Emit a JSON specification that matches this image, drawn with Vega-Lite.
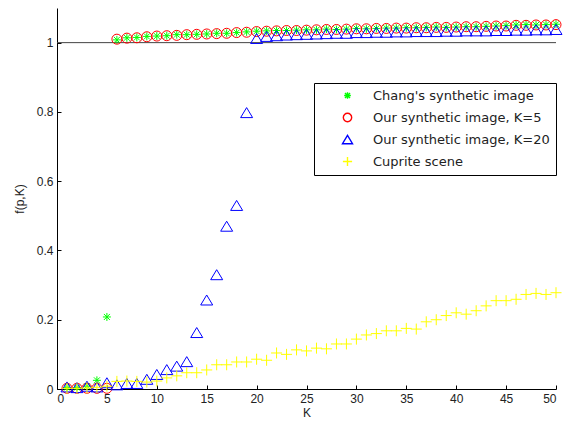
{
  "$schema": "https://vega.github.io/schema/vega-lite/v6.json",
  "autosize": {"type": "none"},
  "width": 499,
  "height": 381,
  "padding": {"left": 57, "top": 8, "right": 7, "bottom": 36},
  "background": "white",
  "config": {
    "view": {"stroke": null},
    "font": "Liberation Sans",
    "axis": {
      "grid": false,
      "domainColor": "#000",
      "tickColor": "#000",
      "tickSize": -4,
      "labelPadding": 8,
      "labelFont": "Liberation Sans",
      "labelFontSize": 12,
      "labelColor": "#222",
      "titleFont": "Liberation Sans",
      "titleFontSize": 12,
      "titleFontWeight": "normal",
      "titleColor": "#222"
    }
  },
  "datasets": {
    "pts": [
      {"K": 1, "v": 0.004, "s": "Chang's synthetic image"},
      {"K": 2, "v": 0.004, "s": "Chang's synthetic image"},
      {"K": 3, "v": 0.008, "s": "Chang's synthetic image"},
      {"K": 4, "v": 0.025, "s": "Chang's synthetic image"},
      {"K": 5, "v": 0.208, "s": "Chang's synthetic image"},
      {"K": 6, "v": 1.008, "s": "Chang's synthetic image"},
      {"K": 7, "v": 1.014, "s": "Chang's synthetic image"},
      {"K": 8, "v": 1.015, "s": "Chang's synthetic image"},
      {"K": 9, "v": 1.018, "s": "Chang's synthetic image"},
      {"K": 10, "v": 1.019, "s": "Chang's synthetic image"},
      {"K": 11, "v": 1.020, "s": "Chang's synthetic image"},
      {"K": 12, "v": 1.023, "s": "Chang's synthetic image"},
      {"K": 13, "v": 1.023, "s": "Chang's synthetic image"},
      {"K": 14, "v": 1.024, "s": "Chang's synthetic image"},
      {"K": 15, "v": 1.025, "s": "Chang's synthetic image"},
      {"K": 16, "v": 1.027, "s": "Chang's synthetic image"},
      {"K": 17, "v": 1.027, "s": "Chang's synthetic image"},
      {"K": 18, "v": 1.029, "s": "Chang's synthetic image"},
      {"K": 19, "v": 1.031, "s": "Chang's synthetic image"},
      {"K": 20, "v": 1.033, "s": "Chang's synthetic image"},
      {"K": 21, "v": 1.034, "s": "Chang's synthetic image"},
      {"K": 22, "v": 1.035, "s": "Chang's synthetic image"},
      {"K": 23, "v": 1.035, "s": "Chang's synthetic image"},
      {"K": 24, "v": 1.036, "s": "Chang's synthetic image"},
      {"K": 25, "v": 1.037, "s": "Chang's synthetic image"},
      {"K": 26, "v": 1.037, "s": "Chang's synthetic image"},
      {"K": 27, "v": 1.039, "s": "Chang's synthetic image"},
      {"K": 28, "v": 1.038, "s": "Chang's synthetic image"},
      {"K": 29, "v": 1.039, "s": "Chang's synthetic image"},
      {"K": 30, "v": 1.041, "s": "Chang's synthetic image"},
      {"K": 31, "v": 1.040, "s": "Chang's synthetic image"},
      {"K": 32, "v": 1.041, "s": "Chang's synthetic image"},
      {"K": 33, "v": 1.042, "s": "Chang's synthetic image"},
      {"K": 34, "v": 1.042, "s": "Chang's synthetic image"},
      {"K": 35, "v": 1.043, "s": "Chang's synthetic image"},
      {"K": 36, "v": 1.043, "s": "Chang's synthetic image"},
      {"K": 37, "v": 1.044, "s": "Chang's synthetic image"},
      {"K": 38, "v": 1.045, "s": "Chang's synthetic image"},
      {"K": 39, "v": 1.044, "s": "Chang's synthetic image"},
      {"K": 40, "v": 1.045, "s": "Chang's synthetic image"},
      {"K": 41, "v": 1.046, "s": "Chang's synthetic image"},
      {"K": 42, "v": 1.046, "s": "Chang's synthetic image"},
      {"K": 43, "v": 1.047, "s": "Chang's synthetic image"},
      {"K": 44, "v": 1.048, "s": "Chang's synthetic image"},
      {"K": 45, "v": 1.049, "s": "Chang's synthetic image"},
      {"K": 46, "v": 1.051, "s": "Chang's synthetic image"},
      {"K": 47, "v": 1.052, "s": "Chang's synthetic image"},
      {"K": 48, "v": 1.051, "s": "Chang's synthetic image"},
      {"K": 49, "v": 1.052, "s": "Chang's synthetic image"},
      {"K": 50, "v": 1.053, "s": "Chang's synthetic image"},

      {"K": 1, "v": 0.002, "s": "Our synthetic image, K=5"},
      {"K": 2, "v": 0.002, "s": "Our synthetic image, K=5"},
      {"K": 3, "v": 0.002, "s": "Our synthetic image, K=5"},
      {"K": 4, "v": 0.002, "s": "Our synthetic image, K=5"},
      {"K": 5, "v": 0.002, "s": "Our synthetic image, K=5"},
      {"K": 6, "v": 1.010, "s": "Our synthetic image, K=5"},
      {"K": 7, "v": 1.013, "s": "Our synthetic image, K=5"},
      {"K": 8, "v": 1.014, "s": "Our synthetic image, K=5"},
      {"K": 9, "v": 1.017, "s": "Our synthetic image, K=5"},
      {"K": 10, "v": 1.019, "s": "Our synthetic image, K=5"},
      {"K": 11, "v": 1.020, "s": "Our synthetic image, K=5"},
      {"K": 12, "v": 1.021, "s": "Our synthetic image, K=5"},
      {"K": 13, "v": 1.023, "s": "Our synthetic image, K=5"},
      {"K": 14, "v": 1.024, "s": "Our synthetic image, K=5"},
      {"K": 15, "v": 1.025, "s": "Our synthetic image, K=5"},
      {"K": 16, "v": 1.026, "s": "Our synthetic image, K=5"},
      {"K": 17, "v": 1.027, "s": "Our synthetic image, K=5"},
      {"K": 18, "v": 1.029, "s": "Our synthetic image, K=5"},
      {"K": 19, "v": 1.030, "s": "Our synthetic image, K=5"},
      {"K": 20, "v": 1.032, "s": "Our synthetic image, K=5"},
      {"K": 21, "v": 1.033, "s": "Our synthetic image, K=5"},
      {"K": 22, "v": 1.034, "s": "Our synthetic image, K=5"},
      {"K": 23, "v": 1.035, "s": "Our synthetic image, K=5"},
      {"K": 24, "v": 1.035, "s": "Our synthetic image, K=5"},
      {"K": 25, "v": 1.036, "s": "Our synthetic image, K=5"},
      {"K": 26, "v": 1.037, "s": "Our synthetic image, K=5"},
      {"K": 27, "v": 1.038, "s": "Our synthetic image, K=5"},
      {"K": 28, "v": 1.038, "s": "Our synthetic image, K=5"},
      {"K": 29, "v": 1.039, "s": "Our synthetic image, K=5"},
      {"K": 30, "v": 1.040, "s": "Our synthetic image, K=5"},
      {"K": 31, "v": 1.040, "s": "Our synthetic image, K=5"},
      {"K": 32, "v": 1.041, "s": "Our synthetic image, K=5"},
      {"K": 33, "v": 1.041, "s": "Our synthetic image, K=5"},
      {"K": 34, "v": 1.042, "s": "Our synthetic image, K=5"},
      {"K": 35, "v": 1.042, "s": "Our synthetic image, K=5"},
      {"K": 36, "v": 1.043, "s": "Our synthetic image, K=5"},
      {"K": 37, "v": 1.043, "s": "Our synthetic image, K=5"},
      {"K": 38, "v": 1.044, "s": "Our synthetic image, K=5"},
      {"K": 39, "v": 1.044, "s": "Our synthetic image, K=5"},
      {"K": 40, "v": 1.045, "s": "Our synthetic image, K=5"},
      {"K": 41, "v": 1.046, "s": "Our synthetic image, K=5"},
      {"K": 42, "v": 1.046, "s": "Our synthetic image, K=5"},
      {"K": 43, "v": 1.047, "s": "Our synthetic image, K=5"},
      {"K": 44, "v": 1.048, "s": "Our synthetic image, K=5"},
      {"K": 45, "v": 1.048, "s": "Our synthetic image, K=5"},
      {"K": 46, "v": 1.050, "s": "Our synthetic image, K=5"},
      {"K": 47, "v": 1.050, "s": "Our synthetic image, K=5"},
      {"K": 48, "v": 1.051, "s": "Our synthetic image, K=5"},
      {"K": 49, "v": 1.051, "s": "Our synthetic image, K=5"},
      {"K": 50, "v": 1.052, "s": "Our synthetic image, K=5"},

      {"K": 1, "v": 0.006, "s": "Our synthetic image, K=20"},
      {"K": 2, "v": 0.004, "s": "Our synthetic image, K=20"},
      {"K": 3, "v": 0.008, "s": "Our synthetic image, K=20"},
      {"K": 4, "v": 0.006, "s": "Our synthetic image, K=20"},
      {"K": 5, "v": 0.018, "s": "Our synthetic image, K=20"},
      {"K": 6, "v": 0.012, "s": "Our synthetic image, K=20"},
      {"K": 7, "v": 0.016, "s": "Our synthetic image, K=20"},
      {"K": 8, "v": 0.016, "s": "Our synthetic image, K=20"},
      {"K": 9, "v": 0.028, "s": "Our synthetic image, K=20"},
      {"K": 10, "v": 0.042, "s": "Our synthetic image, K=20"},
      {"K": 11, "v": 0.056, "s": "Our synthetic image, K=20"},
      {"K": 12, "v": 0.066, "s": "Our synthetic image, K=20"},
      {"K": 13, "v": 0.079, "s": "Our synthetic image, K=20"},
      {"K": 14, "v": 0.163, "s": "Our synthetic image, K=20"},
      {"K": 15, "v": 0.257, "s": "Our synthetic image, K=20"},
      {"K": 16, "v": 0.330, "s": "Our synthetic image, K=20"},
      {"K": 17, "v": 0.470, "s": "Our synthetic image, K=20"},
      {"K": 18, "v": 0.530, "s": "Our synthetic image, K=20"},
      {"K": 19, "v": 0.798, "s": "Our synthetic image, K=20"},
      {"K": 20, "v": 1.012, "s": "Our synthetic image, K=20"},
      {"K": 21, "v": 1.018, "s": "Our synthetic image, K=20"},
      {"K": 22, "v": 1.020, "s": "Our synthetic image, K=20"},
      {"K": 23, "v": 1.022, "s": "Our synthetic image, K=20"},
      {"K": 24, "v": 1.023, "s": "Our synthetic image, K=20"},
      {"K": 25, "v": 1.024, "s": "Our synthetic image, K=20"},
      {"K": 26, "v": 1.025, "s": "Our synthetic image, K=20"},
      {"K": 27, "v": 1.026, "s": "Our synthetic image, K=20"},
      {"K": 28, "v": 1.027, "s": "Our synthetic image, K=20"},
      {"K": 29, "v": 1.027, "s": "Our synthetic image, K=20"},
      {"K": 30, "v": 1.029, "s": "Our synthetic image, K=20"},
      {"K": 31, "v": 1.029, "s": "Our synthetic image, K=20"},
      {"K": 32, "v": 1.030, "s": "Our synthetic image, K=20"},
      {"K": 33, "v": 1.030, "s": "Our synthetic image, K=20"},
      {"K": 34, "v": 1.031, "s": "Our synthetic image, K=20"},
      {"K": 35, "v": 1.031, "s": "Our synthetic image, K=20"},
      {"K": 36, "v": 1.032, "s": "Our synthetic image, K=20"},
      {"K": 37, "v": 1.032, "s": "Our synthetic image, K=20"},
      {"K": 38, "v": 1.032, "s": "Our synthetic image, K=20"},
      {"K": 39, "v": 1.033, "s": "Our synthetic image, K=20"},
      {"K": 40, "v": 1.033, "s": "Our synthetic image, K=20"},
      {"K": 41, "v": 1.034, "s": "Our synthetic image, K=20"},
      {"K": 42, "v": 1.034, "s": "Our synthetic image, K=20"},
      {"K": 43, "v": 1.034, "s": "Our synthetic image, K=20"},
      {"K": 44, "v": 1.035, "s": "Our synthetic image, K=20"},
      {"K": 45, "v": 1.035, "s": "Our synthetic image, K=20"},
      {"K": 46, "v": 1.036, "s": "Our synthetic image, K=20"},
      {"K": 47, "v": 1.036, "s": "Our synthetic image, K=20"},
      {"K": 48, "v": 1.037, "s": "Our synthetic image, K=20"},
      {"K": 49, "v": 1.037, "s": "Our synthetic image, K=20"},
      {"K": 50, "v": 1.038, "s": "Our synthetic image, K=20"},

      {"K": 1, "v": 0.002, "s": "Cuprite scene"},
      {"K": 2, "v": 0.002, "s": "Cuprite scene"},
      {"K": 3, "v": 0.003, "s": "Cuprite scene"},
      {"K": 4, "v": 0.005, "s": "Cuprite scene"},
      {"K": 5, "v": 0.008, "s": "Cuprite scene"},
      {"K": 6, "v": 0.022, "s": "Cuprite scene"},
      {"K": 7, "v": 0.023, "s": "Cuprite scene"},
      {"K": 8, "v": 0.022, "s": "Cuprite scene"},
      {"K": 9, "v": 0.020, "s": "Cuprite scene"},
      {"K": 10, "v": 0.023, "s": "Cuprite scene"},
      {"K": 11, "v": 0.032, "s": "Cuprite scene"},
      {"K": 12, "v": 0.038, "s": "Cuprite scene"},
      {"K": 13, "v": 0.047, "s": "Cuprite scene"},
      {"K": 14, "v": 0.047, "s": "Cuprite scene"},
      {"K": 15, "v": 0.055, "s": "Cuprite scene"},
      {"K": 16, "v": 0.070, "s": "Cuprite scene"},
      {"K": 17, "v": 0.070, "s": "Cuprite scene"},
      {"K": 18, "v": 0.078, "s": "Cuprite scene"},
      {"K": 19, "v": 0.078, "s": "Cuprite scene"},
      {"K": 20, "v": 0.086, "s": "Cuprite scene"},
      {"K": 21, "v": 0.083, "s": "Cuprite scene"},
      {"K": 22, "v": 0.104, "s": "Cuprite scene"},
      {"K": 23, "v": 0.100, "s": "Cuprite scene"},
      {"K": 24, "v": 0.113, "s": "Cuprite scene"},
      {"K": 25, "v": 0.110, "s": "Cuprite scene"},
      {"K": 26, "v": 0.118, "s": "Cuprite scene"},
      {"K": 27, "v": 0.116, "s": "Cuprite scene"},
      {"K": 28, "v": 0.130, "s": "Cuprite scene"},
      {"K": 29, "v": 0.130, "s": "Cuprite scene"},
      {"K": 30, "v": 0.144, "s": "Cuprite scene"},
      {"K": 31, "v": 0.156, "s": "Cuprite scene"},
      {"K": 32, "v": 0.160, "s": "Cuprite scene"},
      {"K": 33, "v": 0.168, "s": "Cuprite scene"},
      {"K": 34, "v": 0.168, "s": "Cuprite scene"},
      {"K": 35, "v": 0.175, "s": "Cuprite scene"},
      {"K": 36, "v": 0.173, "s": "Cuprite scene"},
      {"K": 37, "v": 0.194, "s": "Cuprite scene"},
      {"K": 38, "v": 0.200, "s": "Cuprite scene"},
      {"K": 39, "v": 0.212, "s": "Cuprite scene"},
      {"K": 40, "v": 0.220, "s": "Cuprite scene"},
      {"K": 41, "v": 0.216, "s": "Cuprite scene"},
      {"K": 42, "v": 0.226, "s": "Cuprite scene"},
      {"K": 43, "v": 0.240, "s": "Cuprite scene"},
      {"K": 44, "v": 0.255, "s": "Cuprite scene"},
      {"K": 45, "v": 0.255, "s": "Cuprite scene"},
      {"K": 46, "v": 0.259, "s": "Cuprite scene"},
      {"K": 47, "v": 0.273, "s": "Cuprite scene"},
      {"K": 48, "v": 0.276, "s": "Cuprite scene"},
      {"K": 49, "v": 0.273, "s": "Cuprite scene"},
      {"K": 50, "v": 0.278, "s": "Cuprite scene"}
    ],
    "ref": [{"y": 1}]
  },
  "layer": [
    {
      "data": {"name": "ref"},
      "mark": {"type": "rule", "color": "#444", "strokeWidth": 1},
      "encoding": {
        "y": {"field": "y", "type": "quantitative", "scale": {"domain": [0, 1.1]}}
      }
    },
    {
      "data": {"name": "pts"},
      "mark": {"type": "point", "filled": false, "size": 100, "strokeWidth": 1, "opacity": 1},
      "encoding": {
        "x": {
          "field": "K", "type": "quantitative",
          "scale": {"domain": [0, 50], "nice": false},
          "axis": {"values": [0, 5, 10, 15, 20, 25, 30, 35, 40, 45, 50], "title": "K", "titlePadding": 3}
        },
        "y": {
          "field": "v", "type": "quantitative",
          "scale": {"domain": [0, 1.1], "nice": false},
          "axis": {"values": [0, 0.2, 0.4, 0.6, 0.8, 1], "format": "~g", "title": "f(p,K)", "titlePadding": 10}
        },
        "color": {
          "field": "s", "type": "nominal",
          "scale": {
            "domain": ["Chang's synthetic image", "Our synthetic image, K=5", "Our synthetic image, K=20", "Cuprite scene"],
            "range": ["#00ff00", "#ff0000", "#0000ff", "#ffff00"]
          },
          "legend": {
            "title": null,
            "orient": "none",
            "legendX": 257,
            "legendY": 75,
            "fillColor": "white",
            "strokeColor": "#000",
            "padding": 6,
            "symbolOffset": 21,
            "labelOffset": 19,
            "rowPadding": 7,
            "labelFontSize": 13,
            "labelFont": "DejaVu Sans",
            "labelColor": "#222",
            "labelLimit": 300,
            "symbolStrokeWidth": 1.4,
            "symbolSize": 70
          }
        },
        "shape": {
          "field": "s", "type": "nominal",
          "scale": {
            "domain": ["Chang's synthetic image", "Our synthetic image, K=5", "Our synthetic image, K=20", "Cuprite scene"],
            "range": [
              "M-0.8,0H0.8M0,-0.8V0.8M-0.6,-0.6L0.6,0.6M-0.6,0.6L0.6,-0.6",
              "circle",
              "M0,-1L-1.2,1L1.2,1Z",
              "M-1.1,0H1.1M0,-1.1V1.1"
            ]
          }
        }
      }
    }
  ]
}
